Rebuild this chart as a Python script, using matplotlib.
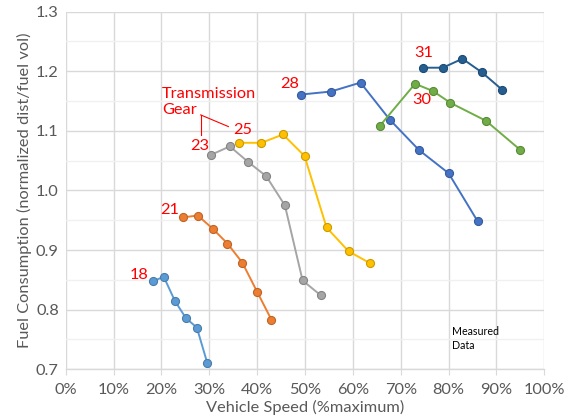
import matplotlib
matplotlib.use("Agg")
import matplotlib.pyplot as plt
from matplotlib.ticker import MultipleLocator, PercentFormatter
import matplotlib.colors as mcolors

plt.rcParams['font.family'] = ['Lato', 'DejaVu Sans']

# Vehicle speed (% of maximum) and normalized fuel consumption per gear
gears = ["18", "21", "23", "25", "28", "30", "31"]
speed = {
    "18": [18.2, 20.5, 22.8, 25.1, 27.4, 29.6],
    "21": [24.6, 27.6, 30.7, 33.8, 36.9, 40.0, 43.0],
    "23": [30.4, 34.3, 38.1, 41.9, 45.8, 49.5, 53.3],
    "25": [36.3, 40.9, 45.4, 49.9, 54.5, 59.1, 63.6],
    "28": [49.2, 55.4, 61.6, 67.7, 73.8, 80.0, 86.1],
    "30": [65.7, 73.0, 76.7, 80.4, 87.8, 95.0],
    "31": [74.7, 78.8, 82.9, 87.0, 91.2],
}
fuel = {
    "18": [0.848, 0.855, 0.815, 0.786, 0.770, 0.710],
    "21": [0.955, 0.958, 0.936, 0.911, 0.879, 0.830, 0.783],
    "23": [1.060, 1.074, 1.048, 1.024, 0.975, 0.849, 0.824],
    "25": [1.080, 1.080, 1.094, 1.058, 0.938, 0.898, 0.878],
    "28": [1.161, 1.166, 1.181, 1.119, 1.068, 1.029, 0.948],
    "30": [1.109, 1.179, 1.167, 1.147, 1.117, 1.068],
    "31": [1.206, 1.206, 1.221, 1.198, 1.169],
}
colors = {
    "18": "#5B9BD5", "21": "#ED7D31", "23": "#A5A5A5", "25": "#FFC000",
    "28": "#4472C4", "30": "#70AD47", "31": "#255E91",
}
# Gear label centres (data coords)
label_pos = {
    "18": (15.3, 0.858), "21": (21.8, 0.968), "23": (28.1, 1.074),
    "25": (36.9, 1.102), "28": (46.7, 1.178), "30": (74.4, 1.151),
    "31": (74.9, 1.231),
}

FS = 11.8
fig = plt.figure(figsize=(5.81, 4.17), dpi=100)
ax = fig.add_axes([0.1131, 0.1144, 0.8237, 0.8576])

for g in gears:
    c = colors[g]
    edge = mcolors.to_hex([v * 0.8 for v in mcolors.to_rgb(c)])
    ax.plot(speed[g], fuel[g], color=c, lw=1.4, marker="o", ms=5.8,
            mfc=c, mec=edge, mew=0.8, zorder=3)
    lx, ly = label_pos[g]
    ax.text(lx, ly, g, color="#FF0000", fontsize=FS, ha="center", va="center")

ax.text(20.1, 1.148, "Transmission\nGear", color="#FF0000", fontsize=FS,
        ha="left", va="center", linespacing=1.2)
ax.plot([28.2, 28.2], [1.1268, 1.0933], color="#FF0000", lw=0.8)
ax.plot([28.2, 34.0], [1.1268, 1.1072], color="#FF0000", lw=0.8)

ax.text(80.8, 0.751, "Measured\nData", color="#000000", fontsize=7.7,
        ha="left", va="center", linespacing=1.35)

ax.set_xlim(0, 100)
ax.set_ylim(0.7, 1.3)
ax.xaxis.set_major_locator(MultipleLocator(10))
ax.xaxis.set_major_formatter(PercentFormatter(decimals=0))
ax.yaxis.set_major_locator(MultipleLocator(0.1))
ax.yaxis.set_minor_locator(MultipleLocator(0.05))
ax.yaxis.set_major_formatter(plt.FuncFormatter(lambda v, p: f"{v:.1f}"))

ax.grid(True, which="major", color="#D9D9D9", lw=1.0, zorder=0)
ax.grid(True, which="minor", axis="y", color="#F0F0F0", lw=1.0, zorder=0)
ax.set_axisbelow(True)
for s in ["top", "right", "left"]:
    ax.spines[s].set_visible(False)
ax.spines["bottom"].set_color("#D9D9D9")
ax.spines["bottom"].set_linewidth(1.0)

ax.tick_params(axis="x", which="major", length=4, color="#D9D9D9",
               labelcolor="#595959", labelsize=FS, pad=6)
ax.tick_params(axis="y", which="both", length=0, labelcolor="#595959",
               labelsize=FS, pad=5)

ax.set_xlabel("Vehicle Speed (%maximum)", color="#595959", fontsize=FS,
              labelpad=2)
ax.set_ylabel("Fuel Consumption (normalized dist/fuel vol)", color="#595959",
              fontsize=FS, labelpad=3)

fig.savefig("out.png", dpi=100)
